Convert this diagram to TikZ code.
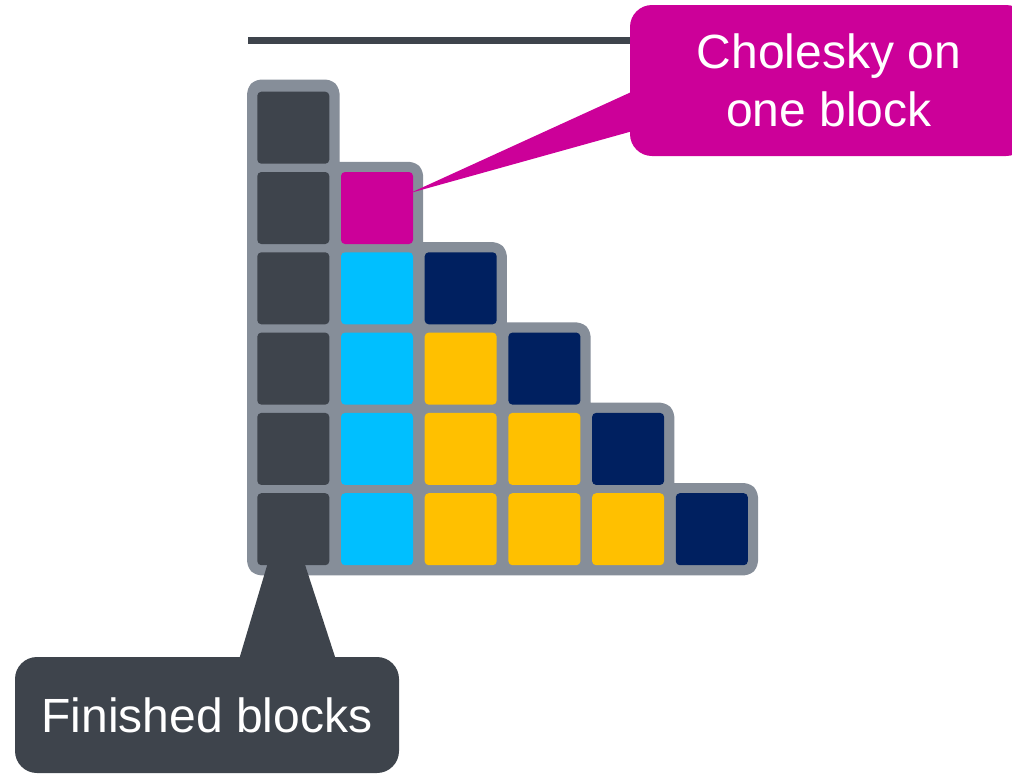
\documentclass[tikz,border=0pt]{standalone}
\usepackage{fontspec}
\setmainfont{Liberation Sans}
\usetikzlibrary{calc,backgrounds}
\definecolor{framegray}{RGB}{134,142,153}
\definecolor{darkblock}{RGB}{62,68,76}
\definecolor{magblock}{RGB}{204,0,153}
\definecolor{cyanblock}{RGB}{0,191,255}
\definecolor{amberblock}{RGB}{255,192,0}
\definecolor{navyblock}{RGB}{0,32,96}
\tikzset{
  cell/.style={rectangle, minimum width=72pt, minimum height=72pt, inner sep=0pt, rounded corners=4pt},
  callout/.style={rectangle, rounded corners=22pt, inner sep=0pt, text=white,
    font=\fontsize{48}{58}\selectfont, align=center},
  framestyle/.style={fill=framegray, draw=framegray, line width=20pt, line join=round, rounded corners=4pt},
  rulestyle/.style={draw=darkblock, line width=7pt},
}
\begin{document}
\begin{tikzpicture}[x=1pt,y=-1pt]
\useasboundingbox (0,0) rectangle (1012,774);
\clip (0,0) rectangle (1012,774);
% top rule (partly hidden behind the callout)
\path[rulestyle] (248,40) -- (700,40);
% blocks
\foreach \i/\j/\c in {1/1/darkblock,
  2/1/darkblock, 2/2/magblock,
  3/1/darkblock, 3/2/cyanblock, 3/3/navyblock,
  4/1/darkblock, 4/2/cyanblock, 4/3/amberblock, 4/4/navyblock,
  5/1/darkblock, 5/2/cyanblock, 5/3/amberblock, 5/4/amberblock, 5/5/navyblock,
  6/1/darkblock, 6/2/cyanblock, 6/3/amberblock, 6/4/amberblock, 6/5/amberblock, 6/6/navyblock}
  \node[cell, fill=\c] (c-\i-\j) at ({293.3+83.7*(\j-1)},{127.7+80.3*(\i-1)}) {};
% staircase frame behind the blocks
\begin{scope}[on background layer]
\path[framestyle] (c-6-1.south west) -- ($(c-1-1.north west)+(0,-2)$) -- ($(c-1-1.north east)+(0,-2)$)
  -- (c-1-1.east |- c-2-2.north) -- (c-2-2.north east)
  -- (c-2-2.east |- c-3-3.north) -- (c-3-3.north east)
  -- (c-3-3.east |- c-4-4.north) -- (c-4-4.north east)
  -- (c-4-4.east |- c-5-5.north) -- (c-5-5.north east)
  -- (c-5-5.east |- c-6-6.north) -- (c-6-6.north east)
  -- (c-6-6.south east) -- cycle;
\end{scope}
% callout: Cholesky on one block
\node[callout, fill=magblock, minimum width=398pt, minimum height=151pt] (cb) at (829,80.5) {Cholesky on\\one block};
\fill[magblock] ($(c-2-2.east)+(-3,-15)$) -- ($(cb.west)+(30,-1.5)$) -- ($(cb.west)+(30,43)$) -- cycle;
% callout: Finished blocks
\node[callout, fill=darkblock, minimum width=384pt, minimum height=116pt] (fb) at (207,715) {Finished blocks};
\fill[darkblock] ($(c-6-1.center)+(-8,-25)$) -- ($(fb.north)+(26,23)$) -- ($(fb.north)+(135.5,23)$) -- cycle;
\end{tikzpicture}
\end{document}
